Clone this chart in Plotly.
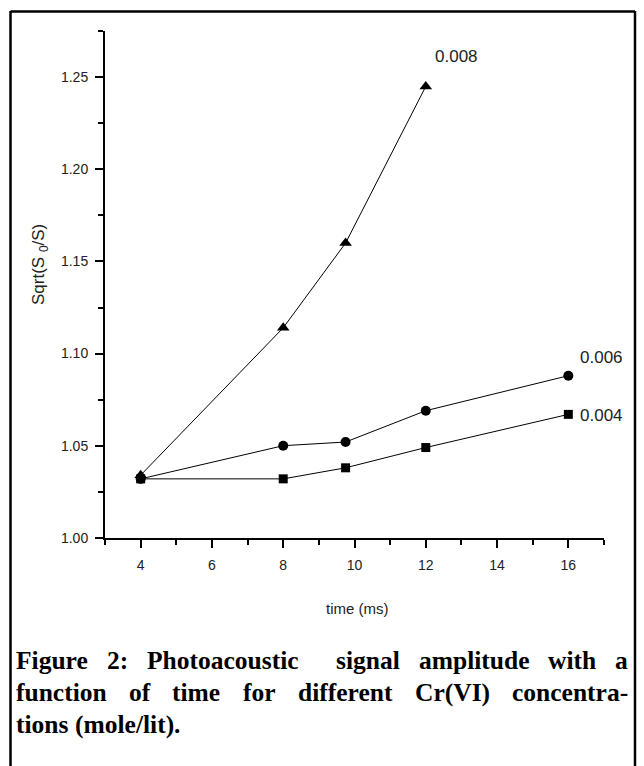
import plotly.graph_objects as go

# ---------------- data ----------------
time_ms = [4, 8, 9.75, 12, 16]
sqrt_004 = [1.032, 1.032, 1.038, 1.049, 1.067]
sqrt_006 = [1.032, 1.050, 1.052, 1.069, 1.088]
time_008 = [4, 8, 9.75, 12]
sqrt_008 = [1.034, 1.114, 1.160, 1.245]
conc_labels = ["0.004", "0.006", "0.008"]

x_tick_vals = [4, 6, 8, 10, 12, 14, 16]
y_tick_vals = [1.00, 1.05, 1.10, 1.15, 1.20, 1.25]
x_title = "time (ms)"
y_title = "Sqrt(S <sub>0</sub>/S)"
caption_lines = [
    "Figure 2: Photoacoustic  signal amplitude with a",
    "function of time for different Cr(VI) concentra-",
    "tions (mole/lit).",
]

# ---------------- layout geometry ----------------
W, H = 644, 766
ML, MR, MT, MB = 105, 40, 31, 228
PW, PH = W - ML - MR, H - MT - MB


def px(xp):
    return (xp - ML) / PW


def py(yp):
    return (H - MB - yp) / PH


SANS = "'Liberation Sans', Arial, sans-serif"
SERIF = "'Liberation Serif', 'Times New Roman', serif"

fig = go.Figure()

line_style = dict(color="black", width=1)
fig.add_trace(go.Scatter(x=time_ms, y=sqrt_004, mode="lines+markers", line=line_style,
                         marker=dict(symbol="square", size=9, color="black"), name=conc_labels[0]))
fig.add_trace(go.Scatter(x=time_ms, y=sqrt_006, mode="lines+markers", line=line_style,
                         marker=dict(symbol="circle", size=10, color="black"), name=conc_labels[1]))
fig.add_trace(go.Scatter(x=time_008, y=sqrt_008, mode="lines+markers", line=line_style,
                         marker=dict(symbol="triangle-up", size=11, color="black"), name=conc_labels[2]))

annotations = []
# series labels next to last points
label_font = dict(family=SANS, size=17, color="#222")
annotations.append(dict(x=time_ms[-1], y=sqrt_004[-1], text=conc_labels[0], showarrow=False,
                        xanchor="center", yanchor="middle", xshift=33, yshift=-1, font=label_font))
annotations.append(dict(x=time_ms[-1], y=sqrt_006[-1], text=conc_labels[1], showarrow=False,
                        xanchor="center", yanchor="middle", xshift=33, yshift=18, font=label_font))
annotations.append(dict(x=time_008[-1], y=sqrt_008[-1], text=conc_labels[2], showarrow=False,
                        xanchor="center", yanchor="middle", xshift=31, yshift=30, font=label_font))

# axis titles
annotations.append(dict(xref="paper", yref="paper", x=px(40), y=py(265), text=y_title,
                        textangle=-90, showarrow=False, xanchor="center", yanchor="middle",
                        font=dict(family=SANS, size=17, color="#222")))
annotations.append(dict(xref="paper", yref="paper", x=px(357), y=py(608), text=x_title,
                        showarrow=False, xanchor="center", yanchor="middle",
                        font=dict(family=SANS, size=15, color="#222")))

# caption, justified word-by-word (Liberation Serif Bold metrics)
TB = {' ': 250, 'a': 500, 'b': 556, 'c': 444, 'd': 556, 'e': 444, 'f': 333, 'g': 500, 'h': 556,
      'i': 278, 'j': 333, 'k': 556, 'l': 278, 'm': 833, 'n': 556, 'o': 500, 'p': 556, 'q': 556,
      'r': 444, 's': 389, 't': 333, 'u': 556, 'v': 500, 'w': 722, 'x': 500, 'y': 500, 'z': 444,
      'F': 611, 'P': 611, 'C': 722, 'V': 722, 'I': 389, '2': 500, ':': 333, '(': 333, ')': 333,
      '/': 278, '.': 250, '-': 333}
CAP_SIZE = 25.5
LEFT, RIGHT = 15, 627
line_centers = [660, 692, 724]


def wwidth(w):
    return sum(TB.get(c, 500) for c in w) / 1000.0 * CAP_SIZE


for i, line in enumerate(caption_lines):
    words = line.split()
    justify = i < len(caption_lines) - 1
    widths = [wwidth(w) for w in words]
    if justify:
        parts = line.split(" ")
        weights = []
        cnt = 0
        for p in parts[1:]:
            cnt += 1
            if p != "":
                weights.append(cnt)
                cnt = 0
        extra_total = (RIGHT - LEFT) - sum(widths)
        unit = extra_total / sum(weights)
        gaps = [unit * wt for wt in weights]
    else:
        gaps = [wwidth(" ")] * (len(words) - 1)
    x = LEFT
    for j, w in enumerate(words):
        annotations.append(dict(xref="paper", yref="paper", x=px(x), y=py(line_centers[i]), text=w,
                                showarrow=False, xanchor="left", yanchor="middle", borderpad=0,
                                font=dict(family=SERIF, size=CAP_SIZE, color="black", weight="bold")))
        if j < len(gaps):
            x += widths[j] + gaps[j]

# frame border (left, top, right)
border = dict(color="black", width=2.5)
shapes = [
    dict(type="line", xref="paper", yref="paper", x0=px(10.5), x1=px(10.5), y0=py(11), y1=py(800), line=border),
    dict(type="line", xref="paper", yref="paper", x0=px(10.5), x1=px(635), y0=py(11.5), y1=py(11.5), line=border),
    dict(type="line", xref="paper", yref="paper", x0=px(635), x1=px(635), y0=py(11), y1=py(800), line=border),
]

tick_font = dict(family=SANS, size=14, color="#222")
fig.update_layout(
    width=W, height=H,
    margin=dict(l=ML, r=MR, t=MT, b=MB, pad=0),
    paper_bgcolor="white", plot_bgcolor="white",
    showlegend=False,
    annotations=annotations,
    shapes=shapes,
    xaxis=dict(range=[2.999, 17.001], tickmode="array", tickvals=x_tick_vals,
               ticks="outside", ticklen=8, tickwidth=1.5, tickcolor="black",
               showline=True, linecolor="black", linewidth=2, showgrid=False, zeroline=False,
               tickfont=tick_font, ticklabelstandoff=5,
               minor=dict(dtick=1, tick0=3, ticks="outside", ticklen=5, tickwidth=1.5, tickcolor="black",
                          showgrid=False)),
    yaxis=dict(range=[0.9999, 1.2751], tickmode="array", tickvals=y_tick_vals, tickformat=".2f",
               ticks="outside", ticklen=8, tickwidth=1.5, tickcolor="black",
               showline=True, linecolor="black", linewidth=2, showgrid=False, zeroline=False,
               tickfont=tick_font, ticklabelstandoff=4,
               minor=dict(dtick=0.025, tick0=1.0, ticks="outside", ticklen=5, tickwidth=1.5, tickcolor="black",
                          showgrid=False)),
)

fig.write_html("out.html")
